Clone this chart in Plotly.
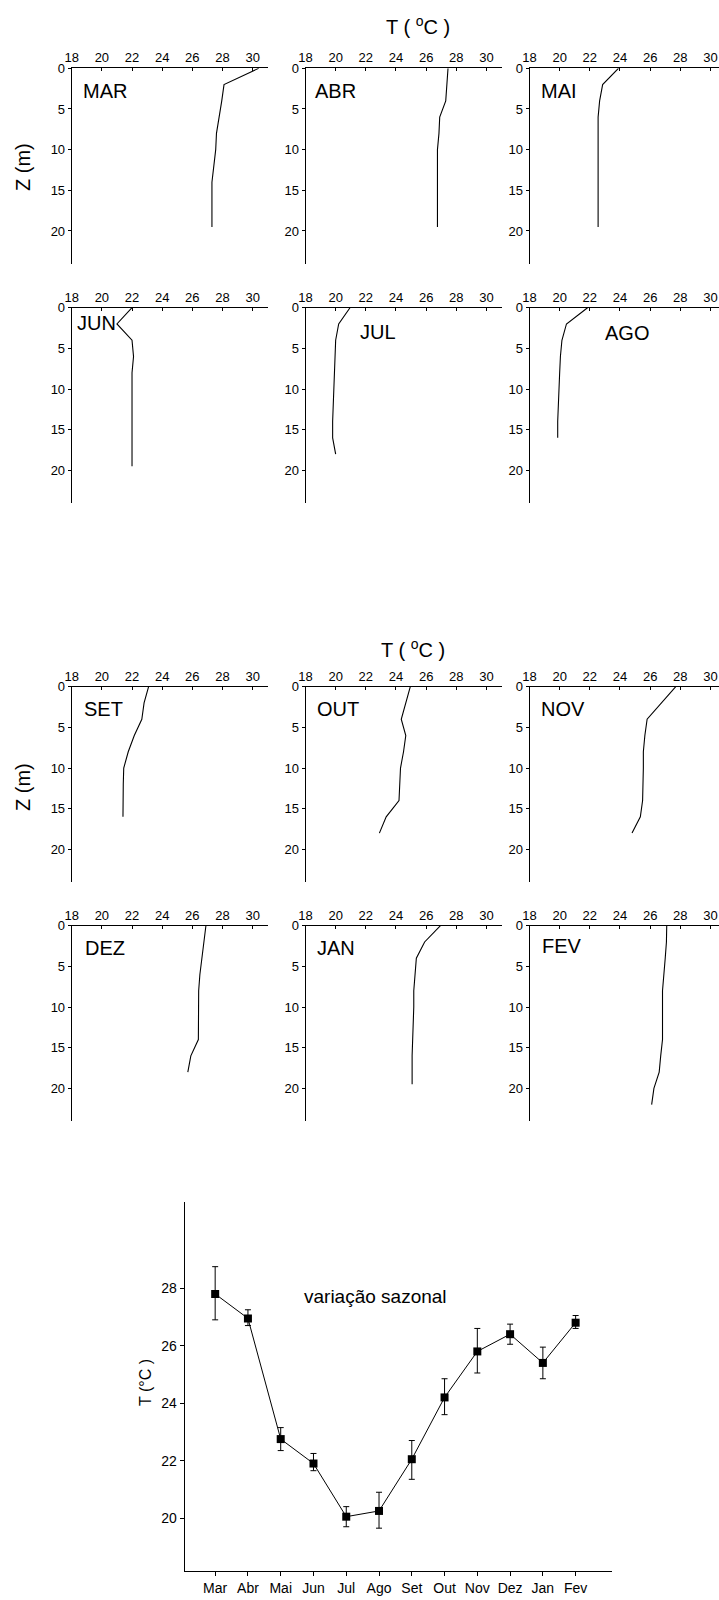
import plotly.graph_objects as go

W, H = 719, 1600
FONT = "Arial, Liberation Sans, sans-serif"
OFF = 0.0  # page body margin removed below, so no offset needed

# ---------------- profile data (depth m, temperature °C) ----------------
months = ["MAR", "ABR", "MAI", "JUN", "JUL", "AGO", "SET", "OUT", "NOV", "DEZ", "JAN", "FEV"]

z_mar = [0, 2, 4, 6, 8, 10, 12, 14, 16, 18, 19.5]
t_mar = [30.4, 28.1, 27.95, 27.8, 27.6, 27.55, 27.4, 27.3, 27.3, 27.3, 27.3]
z_abr = [0, 2, 4, 6, 8, 10, 12, 14, 16, 18, 19.5]
t_abr = [27.45, 27.4, 27.3, 26.9, 26.85, 26.75, 26.75, 26.75, 26.75, 26.75, 26.75]
z_mai = [0, 2, 4, 6, 8, 10, 12, 14, 16, 18, 19.5]
t_mai = [23.9, 22.85, 22.65, 22.55, 22.55, 22.55, 22.55, 22.55, 22.5, 22.5, 22.55]
z_jun = [0, 2, 4, 6, 8, 10, 12, 14, 16, 18, 19.5]
t_jun = [22.0, 21.0, 22.0, 22.1, 22.0, 22.0, 22.0, 22.0, 22.0, 22.0, 22.0]
z_jul = [0, 2, 4, 6, 8, 10, 12, 14, 16, 18]
t_jul = [20.95, 20.2, 20.0, 19.95, 19.9, 19.9, 19.85, 19.8, 19.8, 20.0]
z_ago = [0, 2, 4, 6, 8, 10, 12, 14, 16]
t_ago = [21.85, 20.45, 20.15, 20.05, 20.0, 19.95, 19.87, 19.87, 19.87]
z_set = [0, 2, 4, 6, 8, 10, 12, 14, 16]
t_set = [23.1, 22.8, 22.65, 22.15, 21.75, 21.45, 21.42, 21.4, 21.4]
z_out = [0, 2, 4, 6, 8, 10, 12, 14, 16, 18]
t_out = [24.95, 24.65, 24.35, 24.65, 24.5, 24.3, 24.25, 24.2, 23.35, 22.9]
z_nov = [0, 2, 4, 6, 8, 10, 12, 14, 16, 18]
t_nov = [27.7, 26.75, 25.8, 25.65, 25.55, 25.55, 25.55, 25.5, 25.35, 24.8]
z_dez = [0, 2, 4, 6, 8, 10, 12, 14, 16, 18]
t_dez = [26.9, 26.75, 26.62, 26.5, 26.42, 26.4, 26.4, 26.4, 25.9, 25.7]
z_jan = [0, 2, 4, 6, 8, 10, 12, 14, 16, 18, 19.5]
t_jan = [26.95, 25.9, 25.35, 25.25, 25.18, 25.18, 25.15, 25.07, 25.07, 25.07, 25.07]
z_fev = [0, 2, 4, 6, 8, 10, 12, 14, 16, 18, 20, 22]
t_fev = [27.1, 27.08, 27.0, 26.9, 26.82, 26.82, 26.82, 26.82, 26.7, 26.6, 26.25, 26.1]

profiles = [(z_mar, t_mar), (z_abr, t_abr), (z_mai, t_mai), (z_jun, t_jun),
            (z_jul, t_jul), (z_ago, t_ago), (z_set, t_set), (z_out, t_out),
            (z_nov, t_nov), (z_dez, t_dez), (z_jan, t_jan), (z_fev, t_fev)]

# label anchor (temperature, depth) for each panel's month name
label_t = [18.6, 18.5, 18.6, 18.2, 21.45, 22.85, 18.65, 18.6, 18.6, 18.75, 18.65, 18.7]
label_z = [2.75, 2.75, 2.75, 1.9, 2.95, 3.05, 2.75, 2.75, 2.75, 2.75, 2.75, 2.5]

temp_ticks = [18, 20, 22, 24, 26, 28, 30]
depth_ticks = [0, 5, 10, 15, 20]

# ---------------- seasonal data ----------------
season_months = ["Mar", "Abr", "Mai", "Jun", "Jul", "Ago", "Set", "Out", "Nov", "Dez", "Jan", "Fev"]
season_mean = [27.8, 26.95, 22.75, 21.9, 20.05, 20.25, 22.05, 24.2, 25.8, 26.4, 25.4, 26.8]
season_err_up = [0.95, 0.3, 0.4, 0.35, 0.35, 0.65, 0.65, 0.65, 0.8, 0.35, 0.55, 0.25]
season_err_dn = [0.9, 0.25, 0.4, 0.25, 0.35, 0.6, 0.7, 0.6, 0.75, 0.35, 0.55, 0.2]
season_ticks = [20, 22, 24, 26, 28]


def px2x(p):
    return min(max((p - OFF) / W, 0.0), 1.0)


def px2y(p):
    return min(max(1 - (p - OFF) / H, 0.0), 1.0)


col_left = [71.7, 305.5, 529.5]
col_width = 196.0
unit_px = 15.08
row_top = [68.3, 307.7, 686.7, 925.7]
row_height = 195.2

fig = go.Figure()
layout = dict(
    width=W, height=H,
    margin=dict(l=0, r=0, t=0, b=0, pad=0, autoexpand=False),
    paper_bgcolor="white", plot_bgcolor="white",
    showlegend=False,
    font=dict(family=FONT, color="black"),
)
annotations = []

for i, (zz, tt) in enumerate(profiles):
    r, c = divmod(i, 3)
    n = i + 1
    xa = "xaxis" if n == 1 else f"xaxis{n}"
    ya = "yaxis" if n == 1 else f"yaxis{n}"
    xr = "x" if n == 1 else f"x{n}"
    yr = "y" if n == 1 else f"y{n}"
    left = col_left[c]
    right = min(left + col_width, W + OFF)
    xmax = 18 + (right - left) / unit_px
    top = row_top[r]
    bottom = top + row_height
    layout[xa] = dict(
        domain=[px2x(left), px2x(right)], anchor=yr, side="top",
        range=[18, xmax], tickvals=temp_ticks, ticks="inside", ticklen=3,
        tickwidth=1, tickcolor="black", showline=True, linecolor="black",
        linewidth=1, showgrid=False, zeroline=False, automargin=False,
        ticklabeloverflow="allow",
        tickfont=dict(size=13, family=FONT, color="black"),
    )
    layout[ya] = dict(
        domain=[px2y(bottom), px2y(top)], anchor=xr,
        range=[24, 0], tickvals=depth_ticks, ticks="outside", ticklen=3,
        tickwidth=1, tickcolor="black", showline=True, linecolor="black",
        linewidth=1, showgrid=False, zeroline=False, automargin=False,
        tickfont=dict(size=13, family=FONT, color="black"),
    )
    fig.add_trace(go.Scatter(x=tt, y=zz, mode="lines", xaxis=xr, yaxis=yr,
                             line=dict(color="black", width=1.1)))
    annotations.append(dict(x=label_t[i], y=label_z[i], xref=xr, yref=yr,
                            text=months[i], showarrow=False, xanchor="left",
                            yanchor="middle",
                            font=dict(size=20, family=FONT, color="black")))

# titles
for (tx, ty) in [(418, 25), (413, 648)]:
    annotations.append(dict(x=px2x(tx), y=px2y(ty), xref="paper", yref="paper",
                            text="T ( <sup>o</sup>C )", showarrow=False,
                            xanchor="center", yanchor="middle",
                            font=dict(size=20, family=FONT, color="black")))
for (zx, zy) in [(23, 167), (23, 787)]:
    annotations.append(dict(x=px2x(zx), y=px2y(zy), xref="paper", yref="paper",
                            text="Z (m)", showarrow=False, textangle=-90,
                            xanchor="center", yanchor="middle",
                            font=dict(size=20, family=FONT, color="black")))

# ---------------- seasonal chart ----------------
b_left, b_right = 184.7, 612.0
b_top, b_bottom = 1202.0, 1571.0
layout["xaxis13"] = dict(
    domain=[px2x(b_left), px2x(b_right)], anchor="y13",
    type="category", categoryorder="array", categoryarray=season_months,
    range=[-0.93, 12.11], ticks="outside", ticklen=4, tickwidth=1,
    tickcolor="black", showline=True, linecolor="black", linewidth=1,
    showgrid=False, zeroline=False, automargin=False,
    tickfont=dict(size=14, family=FONT, color="black"),
)
layout["yaxis13"] = dict(
    domain=[px2y(b_bottom), px2y(b_top)], anchor="x13",
    range=[18.16, 31.0], tickvals=season_ticks, ticks="outside", ticklen=4,
    tickwidth=1, tickcolor="black", showline=True, linecolor="black",
    linewidth=1, showgrid=False, zeroline=False, automargin=False,
    tickfont=dict(size=14, family=FONT, color="black"),
)
fig.add_trace(go.Scatter(
    x=season_months, y=season_mean, mode="lines+markers", xaxis="x13", yaxis="y13",
    line=dict(color="black", width=1),
    marker=dict(symbol="square", size=8, color="black"),
    error_y=dict(type="data", symmetric=False, array=season_err_up,
                 arrayminus=season_err_dn, color="black", thickness=1, width=3),
))
annotations.append(dict(x=px2x(145), y=px2y(1383), xref="paper", yref="paper",
                        text="T (°C )", showarrow=False, textangle=-90,
                        xanchor="center", yanchor="middle",
                        font=dict(size=16, family=FONT, color="black")))
annotations.append(dict(x=px2x(375), y=px2y(1296), xref="paper", yref="paper",
                        text="variação sazonal", showarrow=False,
                        xanchor="center", yanchor="middle",
                        font=dict(size=19, family=FONT, color="black")))

layout["annotations"] = annotations
fig.update_layout(**layout)
fig.write_html(
    "out.html",
    config={"displayModeBar": False, "staticPlot": True},
    post_script="document.body.style.margin='0';document.body.style.overflow='hidden';",
)
